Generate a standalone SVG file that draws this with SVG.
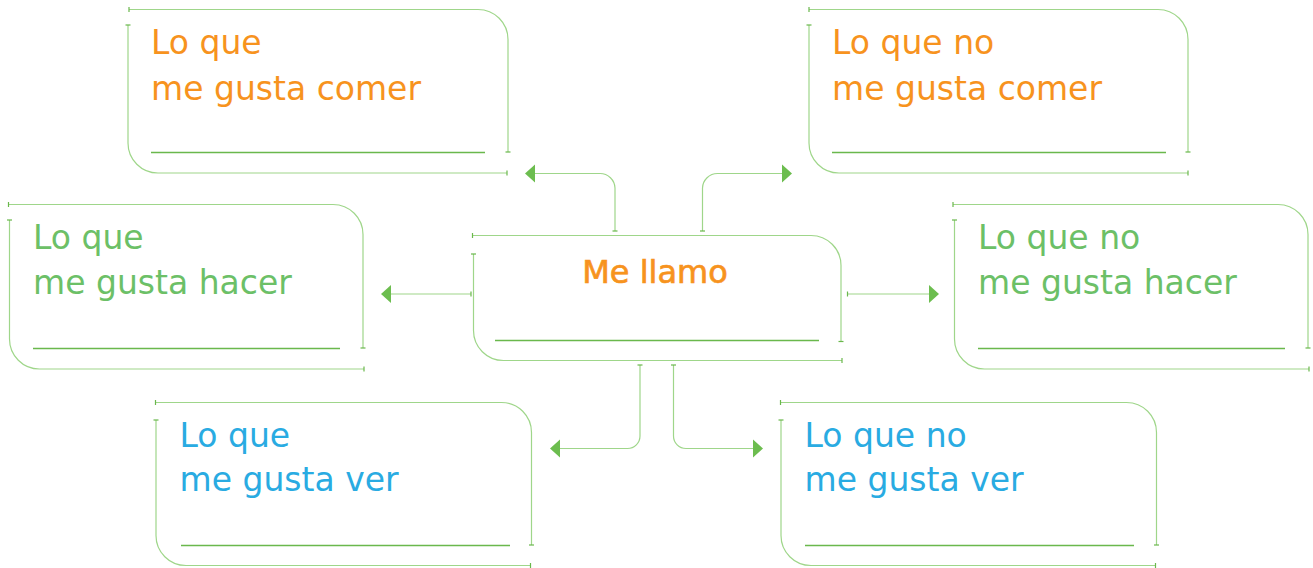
<svg xmlns="http://www.w3.org/2000/svg" width="1313" height="568" viewBox="0 0 1313 568">
<style>
.frame{fill:none;stroke:#9fd68a;stroke-width:1.2;marker-start:url(#tick);marker-end:url(#tick)}
.uline{fill:none;stroke:#6ab84c;stroke-width:1.4}
.conn{fill:none;stroke:#9fd68a;stroke-width:1.2;marker-start:url(#tick);marker-end:url(#arrow)}
.t{font-family:"DejaVu Sans","Liberation Sans",sans-serif;font-size:33px}
.or{fill:#f7931e}
.gr{fill:#6cc067}
.bl{fill:#29abe2}
.title{font-family:"DejaVu Sans","Liberation Sans",sans-serif;font-size:32px;fill:#f7931e;stroke:#f7931e;stroke-width:0.7;text-anchor:middle}
</style>
<defs>
<marker id="tick" markerUnits="userSpaceOnUse" viewBox="-4 -4 8 8" refX="0" refY="0" markerWidth="8" markerHeight="8" orient="auto">
<path d="M0,-2.5 V2.5" stroke="#6ab84c" stroke-width="1.2"/>
</marker>
<marker id="arrow" markerUnits="userSpaceOnUse" viewBox="0 -10 12 20" refX="0" refY="0" markerWidth="12" markerHeight="20" orient="auto">
<path d="M0,-9 L10,0 L0,9 Z" fill="#6cbd4f"/>
</marker>
</defs>
<g id="connectors">
<path class="conn" d="M615,231 V188 A15 15 0 0 0 600,173.5 H535"/>
<path class="conn" d="M702.5,231 V188 A15 15 0 0 1 717.5,173.5 H782"/>
<path class="conn" d="M471,294 H391"/>
<path class="conn" d="M847.5,294 H929"/>
<path class="conn" d="M640,365 V436 A12.5 12.5 0 0 1 627.5,448.5 H560"/>
<path class="conn" d="M673.5,365 V436 A12.5 12.5 0 0 0 686,448.5 H753"/>
</g>
<g id="center">
<path class="frame" d="M472.5,235.5 H811 A30 30 0 0 1 841,265.5 V341.5"/>
<path class="frame" d="M473.5,254 V330.5 A30 30 0 0 0 503.5,360.5 H842"/>
<line class="uline" x1="495" y1="340.5" x2="819" y2="340.5"/>
<text class="title" x="655" y="283">Me llamo</text>
</g>
<g id="comer-si">
<path class="frame" d="M129,9.5 H478 A30 30 0 0 1 508,39.5 V152"/>
<path class="frame" d="M128,25 V143 A30 30 0 0 0 158,173 H507"/>
<line class="uline" x1="151" y1="152.5" x2="485" y2="152.5"/>
<text class="t or" x="151" y="53.5">Lo que</text>
<text class="t or" x="151" y="99.5">me gusta comer</text>
</g>
<g id="comer-no">
<path class="frame" d="M809,9.5 H1158 A30 30 0 0 1 1188,39.5 V152"/>
<path class="frame" d="M809,25 V143 A30 30 0 0 0 839,173 H1188"/>
<line class="uline" x1="832" y1="152.5" x2="1166" y2="152.5"/>
<text class="t or" x="832" y="53.5">Lo que no</text>
<text class="t or" x="832" y="99.5">me gusta comer</text>
</g>
<g id="hacer-si">
<path class="frame" d="M8.5,204.5 H333 A30 30 0 0 1 363,234.5 V348"/>
<path class="frame" d="M9.5,220 V339 A30 30 0 0 0 39.5,369 H364"/>
<line class="uline" x1="33" y1="348.5" x2="340" y2="348.5"/>
<text class="t gr" x="33" y="249">Lo que</text>
<text class="t gr" x="33" y="294">me gusta hacer</text>
</g>
<g id="hacer-no">
<path class="frame" d="M953,204.5 H1278 A30 30 0 0 1 1308,234.5 V348"/>
<path class="frame" d="M954.5,220 V339 A30 30 0 0 0 984.5,369 H1309"/>
<line class="uline" x1="978" y1="348.5" x2="1285" y2="348.5"/>
<text class="t gr" x="978" y="249">Lo que no</text>
<text class="t gr" x="978" y="294">me gusta hacer</text>
</g>
<g id="ver-si">
<path class="frame" d="M155.5,402.5 H501.5 A30 30 0 0 1 531.5,432.5 V545"/>
<path class="frame" d="M156,420 V535.5 A30 30 0 0 0 186,565.5 H530.5"/>
<line class="uline" x1="181" y1="545.5" x2="510" y2="545.5"/>
<text class="t bl" x="179.5" y="446.5">Lo que</text>
<text class="t bl" x="179.5" y="491">me gusta ver</text>
</g>
<g id="ver-no">
<path class="frame" d="M780.5,402.5 H1126.5 A30 30 0 0 1 1156.5,432.5 V545"/>
<path class="frame" d="M781,420 V535.5 A30 30 0 0 0 811,565.5 H1155.5"/>
<line class="uline" x1="805" y1="545.5" x2="1134" y2="545.5"/>
<text class="t bl" x="804.5" y="446.5">Lo que no</text>
<text class="t bl" x="804.5" y="491">me gusta ver</text>
</g>
</svg>
